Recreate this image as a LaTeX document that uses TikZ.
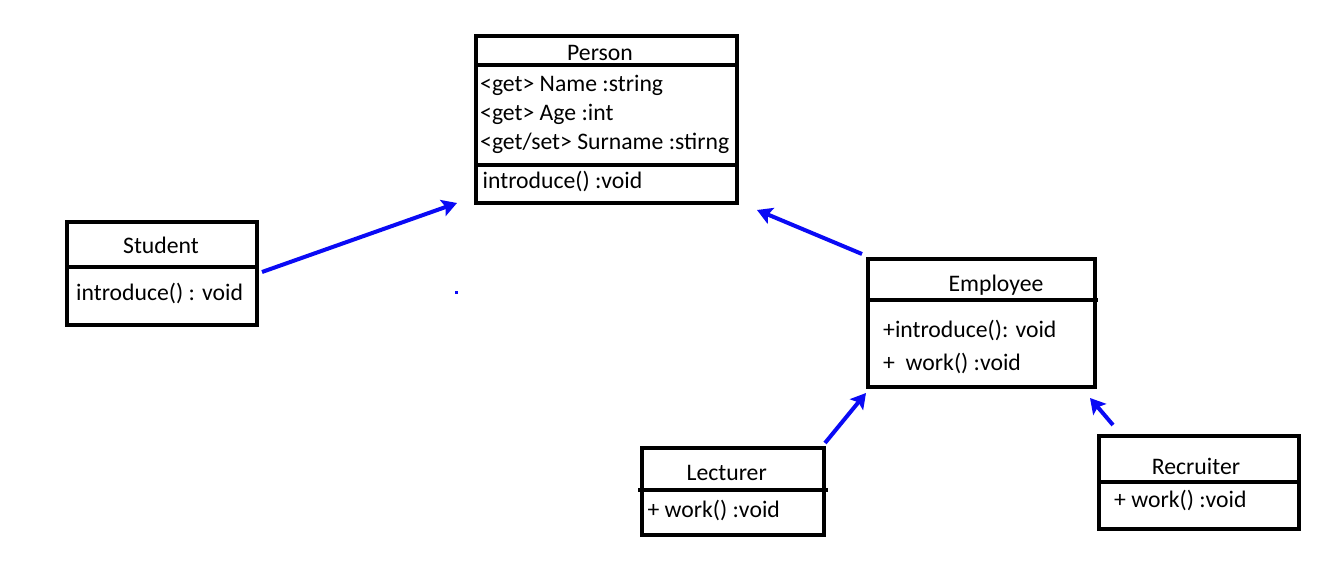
\documentclass[tikz,border=0pt]{standalone}
\usepackage{fontspec}
\setmainfont{Carlito}
\usetikzlibrary{arrows.meta}
\definecolor{arrowblue}{RGB}{10,10,245}
\tikzset{
  umlbox/.style={draw=black, line width=4pt, rectangle, inner sep=0pt, fill=white},
  sepline/.style={draw=black, line width=4pt},
  lbl/.style={inner sep=0pt, anchor=base west, font=\fontsize{23.7}{28}\selectfont},
  ttl/.style={inner sep=0pt, anchor=base, font=\fontsize{23.7}{28}\selectfont},
  inh/.style={draw=arrowblue, line width=4pt, -{Stealth[length=15pt,width=17pt,inset=3pt]}}
}
\begin{document}
\begin{tikzpicture}[x=1pt,y=-1pt]
\useasboundingbox (0,0) rectangle (1342,567);
\fill[white] (0,0) rectangle (1342,567);

% Person
\node[umlbox, minimum width=261.5pt, minimum height=166pt] (person) at (606.25,119.5) {};
\draw[sepline] (475.5,65.5) -- (737,65.5);
\draw[sepline] (475.5,165.5) -- (737,165.5);
\node[ttl] (persont) at (600,60.7) {Person};
\node[lbl] (pa1) at (480,92) {<get> Name :string};
\node[lbl] (pa2) at (480,120.7) {<get> Age :int};
\node[lbl] (pa3) at (480,149.3) {<get/set> Surname :stirng};
\node[lbl] (pm1) at (482.5,188.3) {introduce() :void};

% Student
\node[umlbox, minimum width=190pt, minimum height=103pt] (student) at (161.5,273) {};
\draw[sepline] (66.5,266.5) -- (256.5,266.5);
\node[ttl] (studentt) at (161,253.3) {Student};
\node[lbl] (sm1) at (76,300) {introduce() : void};

% Employee
\node[umlbox, minimum width=227pt, minimum height=128pt] (employee) at (981,323) {};
\draw[sepline] (867.5,299.5) -- (1098,299.5);
\node[ttl] (employeet) at (996,291.7) {Employee};
\node[lbl] (em1) at (883,337.3) {+introduce(): void};
\node[lbl] (em2) at (883,370) {+\ \ work() :void};

% Lecturer
\node[umlbox, minimum width=182pt, minimum height=87.5pt] (lecturer) at (732.5,491.25) {};
\draw[sepline] (638,489.5) -- (828,489.5);
\node[ttl] (lecturert) at (726.7,480.7) {Lecturer};
\node[lbl] (lm1) at (647.3,517.3) {+ work() :void};

% Recruiter
\node[umlbox, minimum width=200.5pt, minimum height=93pt] (recruiter) at (1198.75,482) {};
\draw[sepline] (1098.5,481.5) -- (1299,481.5);
\node[ttl] (recruitert) at (1196,474) {Recruiter};
\node[lbl] (rm1) at (1114,507.3) {+ work() :void};

% connector ends
\coordinate (s1) at (262,272);
\coordinate (p1) at (457,203);
\coordinate (e1) at (862,254);
\coordinate (p2) at (757,210);
\coordinate (l1) at (825,443);
\coordinate (e2) at (866,393);
\coordinate (r1) at (1113,425);
\coordinate (e3) at (1090,398);

\draw[inh] (s1) -- (p1);
\draw[inh] (e1) -- (p2);
\draw[inh] (l1) -- (e2);
\draw[inh] (r1) -- (e3);

% stray dot
\fill[arrowblue] (454.5,290.5) rectangle (457.5,293.5);
\end{tikzpicture}
\end{document}
